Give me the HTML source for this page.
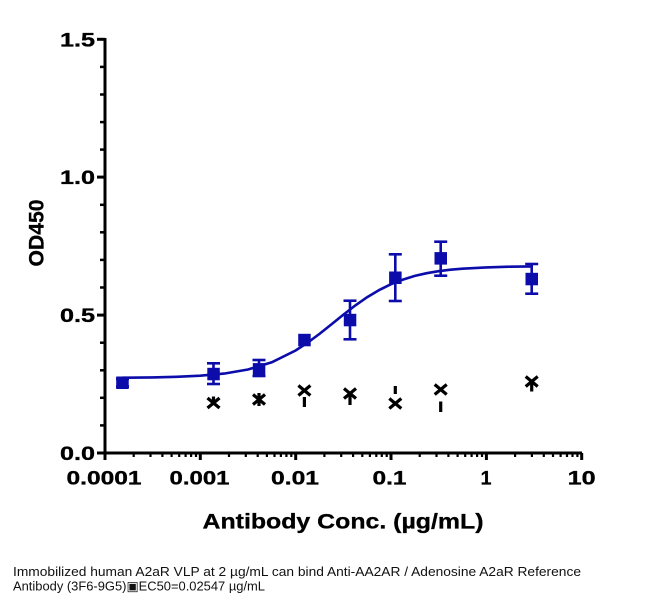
<!DOCTYPE html>
<html>
<head>
<meta charset="utf-8">
<style>
  html,body{margin:0;padding:0;background:#fff;}
  svg{display:block;}
  .tk{font-family:"Liberation Sans",Arial,sans-serif;font-weight:bold;font-size:19.5px;fill:#000;stroke:#000;stroke-width:0.35px;}
  .ttl{font-family:"Liberation Sans",Arial,sans-serif;font-weight:bold;font-size:21px;fill:#000;stroke:#000;stroke-width:0.3px;}
  .cap{font-family:"Liberation Sans",Arial,sans-serif;font-size:13px;fill:#111;}
</style>
</head>
<body>
<svg width="660" height="604" viewBox="0 0 660 604" xmlns="http://www.w3.org/2000/svg">
  <rect width="660" height="604" fill="#fff"/>

  <!-- Axes -->
  <g stroke="#000" stroke-width="3" fill="none">
    <line x1="105" y1="38" x2="105" y2="454.5"/>
    <line x1="103.5" y1="453" x2="582" y2="453"/>
    <line x1="97" y1="39.3" x2="105" y2="39.3"/>
    <line x1="97" y1="177.1" x2="105" y2="177.1"/>
    <line x1="97" y1="315.1" x2="105" y2="315.1"/>
    <line x1="97" y1="453" x2="105" y2="453"/>
  </g>
  <g stroke="#000" stroke-width="2.5">
    <line x1="100" y1="66.9" x2="105" y2="66.9"/>
    <line x1="100" y1="94.5" x2="105" y2="94.5"/>
    <line x1="100" y1="122.1" x2="105" y2="122.1"/>
    <line x1="100" y1="149.6" x2="105" y2="149.6"/>
    <line x1="100" y1="204.8" x2="105" y2="204.8"/>
    <line x1="100" y1="232.3" x2="105" y2="232.3"/>
    <line x1="100" y1="259.9" x2="105" y2="259.9"/>
    <line x1="100" y1="287.5" x2="105" y2="287.5"/>
    <line x1="100" y1="342.7" x2="105" y2="342.7"/>
    <line x1="100" y1="370.3" x2="105" y2="370.3"/>
    <line x1="100" y1="397.8" x2="105" y2="397.8"/>
    <line x1="100" y1="425.4" x2="105" y2="425.4"/>
  </g>
  <g stroke="#000" stroke-width="3">
    <line x1="105" y1="453" x2="105" y2="460"/>
    <line x1="200.3" y1="453" x2="200.3" y2="460"/>
    <line x1="295.7" y1="453" x2="295.7" y2="460"/>
    <line x1="391" y1="453" x2="391" y2="460"/>
    <line x1="486.4" y1="453" x2="486.4" y2="460"/>
    <line x1="581.7" y1="453" x2="581.7" y2="460"/>
  </g>
  <g stroke="#000" stroke-width="2.2">
    <line x1="133.7" y1="453" x2="133.7" y2="457"/>
    <line x1="150.5" y1="453" x2="150.5" y2="457"/>
    <line x1="162.4" y1="453" x2="162.4" y2="457"/>
    <line x1="171.6" y1="453" x2="171.6" y2="457"/>
    <line x1="179.2" y1="453" x2="179.2" y2="457"/>
    <line x1="185.6" y1="453" x2="185.6" y2="457"/>
    <line x1="191.1" y1="453" x2="191.1" y2="457"/>
    <line x1="196.0" y1="453" x2="196.0" y2="457"/>
    <line x1="229.0" y1="453" x2="229.0" y2="457"/>
    <line x1="245.8" y1="453" x2="245.8" y2="457"/>
    <line x1="257.7" y1="453" x2="257.7" y2="457"/>
    <line x1="266.9" y1="453" x2="266.9" y2="457"/>
    <line x1="274.5" y1="453" x2="274.5" y2="457"/>
    <line x1="280.9" y1="453" x2="280.9" y2="457"/>
    <line x1="286.4" y1="453" x2="286.4" y2="457"/>
    <line x1="291.3" y1="453" x2="291.3" y2="457"/>
    <line x1="324.4" y1="453" x2="324.4" y2="457"/>
    <line x1="341.2" y1="453" x2="341.2" y2="457"/>
    <line x1="353.1" y1="453" x2="353.1" y2="457"/>
    <line x1="362.3" y1="453" x2="362.3" y2="457"/>
    <line x1="369.9" y1="453" x2="369.9" y2="457"/>
    <line x1="376.3" y1="453" x2="376.3" y2="457"/>
    <line x1="381.8" y1="453" x2="381.8" y2="457"/>
    <line x1="386.7" y1="453" x2="386.7" y2="457"/>
    <line x1="419.7" y1="453" x2="419.7" y2="457"/>
    <line x1="436.5" y1="453" x2="436.5" y2="457"/>
    <line x1="448.4" y1="453" x2="448.4" y2="457"/>
    <line x1="457.6" y1="453" x2="457.6" y2="457"/>
    <line x1="465.2" y1="453" x2="465.2" y2="457"/>
    <line x1="471.6" y1="453" x2="471.6" y2="457"/>
    <line x1="477.1" y1="453" x2="477.1" y2="457"/>
    <line x1="482.0" y1="453" x2="482.0" y2="457"/>
    <line x1="515.1" y1="453" x2="515.1" y2="457"/>
    <line x1="531.9" y1="453" x2="531.9" y2="457"/>
    <line x1="543.8" y1="453" x2="543.8" y2="457"/>
    <line x1="553.0" y1="453" x2="553.0" y2="457"/>
    <line x1="560.6" y1="453" x2="560.6" y2="457"/>
    <line x1="567.0" y1="453" x2="567.0" y2="457"/>
    <line x1="572.5" y1="453" x2="572.5" y2="457"/>
    <line x1="577.4" y1="453" x2="577.4" y2="457"/>
  </g>

  <!-- Y tick labels -->
  <text class="tk" x="60" y="46.5" textLength="35" lengthAdjust="spacingAndGlyphs">1.5</text>
  <text class="tk" x="60" y="184.2" textLength="35" lengthAdjust="spacingAndGlyphs">1.0</text>
  <text class="tk" x="60" y="322.2" textLength="35" lengthAdjust="spacingAndGlyphs">0.5</text>
  <text class="tk" x="60" y="460.2" textLength="35" lengthAdjust="spacingAndGlyphs">0.0</text>

  <!-- X tick labels -->
  <text class="tk" x="104" y="484.5" text-anchor="middle" textLength="75" lengthAdjust="spacingAndGlyphs">0.0001</text>
  <text class="tk" x="199.5" y="484.5" text-anchor="middle" textLength="60" lengthAdjust="spacingAndGlyphs">0.001</text>
  <text class="tk" x="295" y="484.5" text-anchor="middle" textLength="48" lengthAdjust="spacingAndGlyphs">0.01</text>
  <text class="tk" x="389.5" y="484.5" text-anchor="middle" textLength="34" lengthAdjust="spacingAndGlyphs">0.1</text>
  <text class="tk" x="486" y="484.5" text-anchor="middle">1</text>
  <text class="tk" x="581.7" y="484.5" text-anchor="middle" textLength="28" lengthAdjust="spacingAndGlyphs">10</text>

  <!-- Axis titles -->
  <text class="ttl" x="343" y="528.5" text-anchor="middle" textLength="281" lengthAdjust="spacingAndGlyphs">Antibody Conc. (µg/mL)</text>
  <text class="ttl" transform="translate(43.5,233) rotate(-90)" x="0" y="0" text-anchor="middle" textLength="67" lengthAdjust="spacingAndGlyphs">OD450</text>

  <!-- Fitted curve -->
  <path fill="none" stroke="#0c0cab" stroke-width="2.6" d="M122.4,377.7 L152.6,377.4 L176.5,376.8 L200.3,375.7 L224.1,373.6 L248.0,369.5 L271.8,362.3 L295.6,350.5 L307.6,342.7 L319.5,333.9 L331.4,324.4 L343.3,314.8 L355.2,305.5 L367.1,297.2 L379.0,290.1 L391.0,284.2 L402.9,279.6 L414.8,275.9 L426.7,273.2 L438.6,271.2 L450.5,269.7 L462.4,268.7 L486.2,267.4 L510.1,266.7 L531.7,266.4"/>

  <!-- Error bars (blue) -->
  <g stroke="#0c0cab" stroke-width="2.6" fill="none">
    <line x1="122.4" y1="379" x2="122.4" y2="386.5"/>
    <line x1="116" y1="379" x2="129" y2="379"/>
    <line x1="116" y1="386.5" x2="129" y2="386.5"/>

    <line x1="213.5" y1="363.3" x2="213.5" y2="384"/>
    <line x1="207" y1="363.3" x2="220" y2="363.3"/>
    <line x1="207" y1="384" x2="220" y2="384"/>

    <line x1="259" y1="360" x2="259" y2="376"/>
    <line x1="252.5" y1="360" x2="265.5" y2="360"/>
    <line x1="252.5" y1="376" x2="265.5" y2="376"/>

    <line x1="350" y1="300.7" x2="350" y2="339.3"/>
    <line x1="343.5" y1="300.7" x2="356.5" y2="300.7"/>
    <line x1="343.5" y1="339.3" x2="356.5" y2="339.3"/>

    <line x1="395.3" y1="254.3" x2="395.3" y2="301"/>
    <line x1="388.8" y1="254.3" x2="401.8" y2="254.3"/>
    <line x1="388.8" y1="301" x2="401.8" y2="301"/>

    <line x1="440.7" y1="241.7" x2="440.7" y2="275.7"/>
    <line x1="434.2" y1="241.7" x2="447.2" y2="241.7"/>
    <line x1="434.2" y1="275.7" x2="447.2" y2="275.7"/>

    <line x1="531.7" y1="264" x2="531.7" y2="293.7"/>
    <line x1="525.2" y1="264" x2="538.2" y2="264"/>
    <line x1="525.2" y1="293.7" x2="538.2" y2="293.7"/>
  </g>

  <!-- Blue squares -->
  <g fill="#0c0cab">
    <rect x="116.2" y="376.5" width="12.5" height="12.5"/>
    <rect x="207.3" y="367.8" width="12.5" height="12.5"/>
    <rect x="252.8" y="363.1" width="12.5" height="12.5"/>
    <rect x="298.2" y="333.8" width="12.5" height="12.5"/>
    <rect x="343.8" y="313.8" width="12.5" height="12.5"/>
    <rect x="389.1" y="271.5" width="12.5" height="12.5"/>
    <rect x="434.5" y="252.1" width="12.5" height="12.5"/>
    <rect x="525.5" y="272.8" width="12.5" height="12.5"/>
  </g>

  <!-- Black X markers with partial error bars -->
  <g stroke="#000" stroke-width="3.2" fill="none">
    <path d="M207.5,398 L219.5,408 M219.5,398 L207.5,408"/>
    <line x1="213.5" y1="396.5" x2="213.5" y2="405"/>
    <path d="M253,394.5 L265,404.5 M265,394.5 L253,404.5"/>
    <line x1="259" y1="393" x2="259" y2="406"/>
    <path d="M298.4,385.5 L310.4,395.5 M310.4,385.5 L298.4,395.5"/>
    <line x1="304.4" y1="397" x2="304.4" y2="407"/>
    <path d="M344,388.5 L356,398.5 M356,388.5 L344,398.5"/>
    <line x1="350" y1="393" x2="350" y2="405"/>
    <path d="M389.3,398.5 L401.3,408.5 M401.3,398.5 L389.3,408.5"/>
    <line x1="395.3" y1="386" x2="395.3" y2="394"/>
    <path d="M434.7,384.5 L446.7,394.5 M446.7,384.5 L434.7,394.5"/>
    <line x1="440.7" y1="401.5" x2="440.7" y2="412"/>
    <path d="M525.7,376.5 L537.7,386.5 M537.7,376.5 L525.7,386.5"/>
    <line x1="531.7" y1="381.5" x2="531.7" y2="391.5"/>
  </g>

  <!-- Caption -->
  <text class="cap" x="13" y="576" textLength="568" lengthAdjust="spacingAndGlyphs">Immobilized human A2aR VLP at 2 µg/mL can bind  Anti-AA2AR / Adenosine A2aR Reference</text>
  <text class="cap" x="13" y="590.5" textLength="252" lengthAdjust="spacingAndGlyphs">Antibody (3F6-9G5)▣EC50=0.02547 µg/mL</text>
</svg>
</body>
</html>
